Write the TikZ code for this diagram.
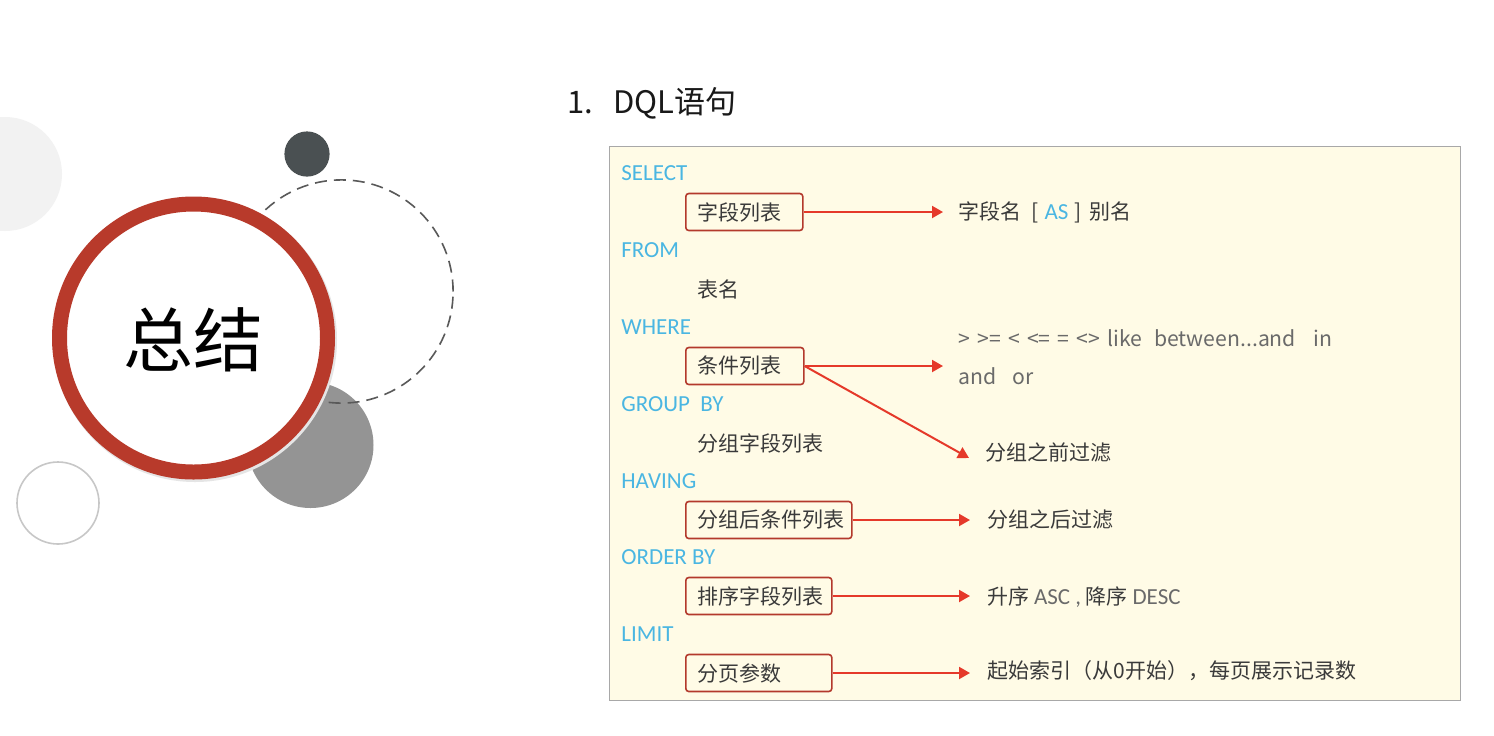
\documentclass[tikz,border=0pt]{standalone}
\usepackage{fontspec}
\setmainfont{Noto Sans CJK SC}
\newfontfamily\kwfont{Carlito}
\usetikzlibrary{arrows.meta}
\definecolor{kwblue}{HTML}{4AB6E2}
\definecolor{bodytext}{HTML}{3A3A3A}
\definecolor{optext}{HTML}{6A6A6A}
\definecolor{ringred}{HTML}{B83A2B}
\definecolor{boxred}{HTML}{B3392C}
\definecolor{arrowred}{HTML}{E5392A}
\definecolor{panelfill}{HTML}{FFFBE6}
\definecolor{panelline}{HTML}{A8A8A8}
\definecolor{darkdot}{HTML}{4A5052}
\tikzset{
  kwtext/.style={anchor=west, inner sep=0pt, text=kwblue, font=\kwfont\fontsize{11.5pt}{13pt}\selectfont},
  plaintext/.style={anchor=west, inner sep=0pt, text=bodytext, font=\fontsize{10.5pt}{12pt}\selectfont},
  optextstyle/.style={anchor=west, inner sep=0pt, text=optext, font=\fontsize{10.6pt}{12pt}\selectfont},
  fieldbox/.style={anchor=west, draw=boxred, line width=0.8pt, rounded corners=1.5pt, inner xsep=6pt, inner ysep=0pt,
    minimum height=18.5pt, align=left, text=bodytext, font=\fontsize{10.5pt}{12pt}\selectfont},
  redarrow/.style={draw=arrowred, line width=1pt, -{Triangle[length=5.5pt,width=6pt]}},
}
\newcommand{\opgap}{\hspace{3.6pt}}
\begin{document}
\begin{tikzpicture}[x=0.5pt,y=-0.5pt]
\useasboundingbox (0,0) rectangle (1494,735);
\fill[white] (0,0) rectangle (1494,735);
% decorative circles
\fill[black!5] (5,174) circle[radius=28.5pt];
\fill[darkdot] (307,154) circle[radius=11.3pt];
\fill[black!42] (310.5,445) circle[radius=31.5pt];
\draw[black!65, line width=0.8pt, dash pattern=on 6pt off 3.5pt] (341.5,291.5) circle[radius=55.8pt];
\draw[black!22, line width=0.8pt] (58,503) circle[radius=20.5pt];
\fill[black!10] (195,340) circle[radius=71pt];
\draw[ringred, line width=7.5pt, fill=white] (193.5,338) circle[radius=67pt];
\node[text=black, font=\fontsize{35pt}{40pt}\selectfont] (summary) at (193.5,340) {总结};

% title
\node[anchor=west, inner sep=0pt, text=black!90, font=\fontsize{15.5pt}{18pt}\selectfont] (title) at (567,103) {1.\hspace{10pt}DQL语句};

% panel
\node[draw=panelline, fill=panelfill, line width=0.6pt, anchor=north west, inner sep=0pt,
  minimum width=425.5pt, minimum height=277pt] (panel) at (609,146) {};

% keywords
\node[kwtext] (kselect) at (621,173) {SELECT};
\node[kwtext] (kfrom) at (621,250) {FROM};
\node[kwtext] (kwhere) at (621,327) {WHERE};
\node[kwtext] (kgroup) at (621,404) {GROUP\ \ BY};
\node[kwtext] (khaving) at (621,481) {HAVING};
\node[kwtext] (korder) at (621,557) {ORDER BY};
\node[kwtext] (klimit) at (621,634) {LIMIT};

% boxes and plain items
\node[fieldbox, text width=46.5pt] (bfields) at (685,212) {字段列表};
\node[plaintext] (ptable) at (697,289) {表名};
\node[fieldbox, text width=47pt] (bcond) at (685,366) {条件列表};
\node[plaintext] (pgroup) at (697,443) {分组字段列表};
\node[fieldbox, text width=71pt] (bhaving) at (685,520) {分组后条件列表};
\node[fieldbox, text width=61pt] (border) at (685,596) {排序字段列表};
\node[fieldbox, text width=61pt] (blimit) at (685,673) {分页参数};

% right texts
\node[plaintext] (tfields) at (958,212) {字段名\hspace{5pt}[\hspace{3pt}{\color{kwblue}\kwfont\fontsize{11.5pt}{13pt}\selectfont AS}\hspace{3pt}]\hspace{4pt}别名};
\node[optextstyle] (tops) at (958,338) {>\opgap>=\opgap<\opgap<=\opgap=\opgap<>\opgap like\hspace{6pt}between...and\hspace{9pt}in};
\node[optextstyle] (tandor) at (958,376) {and\hspace{8pt}or};
\node[plaintext] (tbefore) at (985,453) {分组之前过滤};
\node[plaintext] (tafter) at (987,520) {分组之后过滤};
\node[plaintext] (tsort) at (987,597) {升序\ {\kwfont\fontsize{11.5pt}{13pt}\selectfont\color{optext}ASC\ ,}\ 降序\ {\kwfont\fontsize{11.5pt}{13pt}\selectfont\color{optext}DESC}};
\node[plaintext] (tpage) at (987,671) {起始索引（从0开始），每页展示记录数};

\coordinate (cops) at (943,366);
\coordinate (cbefore) at (969,458);

% arrows
\draw[redarrow, shorten >=7.5pt] (bfields.east) -- (tfields.west);
\draw[redarrow] (bcond.east) -- (cops);
\draw[redarrow] (bcond.east) -- (cbefore);
\draw[redarrow, shorten >=8.5pt] (bhaving.east) -- (tafter.west);
\draw[redarrow, shorten >=8.5pt] (border.east) -- (border.east -| tsort.west);
\draw[redarrow, shorten >=8.5pt] (blimit.east) -- (blimit.east -| tpage.west);
\end{tikzpicture}
\end{document}
